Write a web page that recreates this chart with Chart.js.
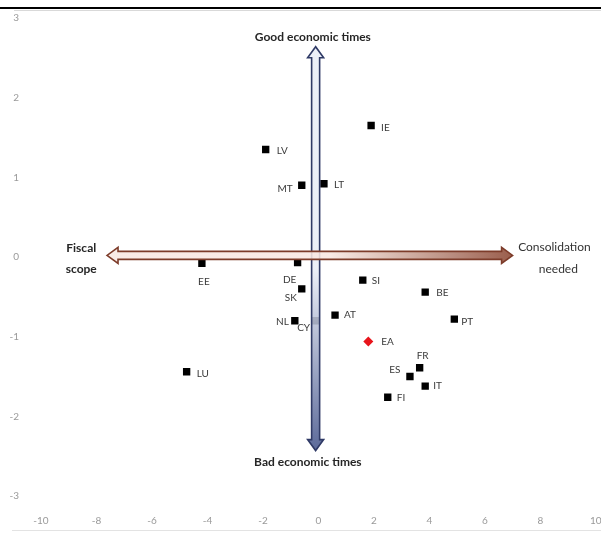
<!DOCTYPE html>
<html><head><meta charset="utf-8">
<script src="https://cdn.jsdelivr.net/npm/chart.js@4.4.0/dist/chart.umd.min.js"></script>
<style>
html,body{margin:0;padding:0;background:#fff;}
#wrap{position:relative;width:601px;height:547px;overflow:hidden;}
canvas{position:absolute;left:0;top:0;}
.ln{position:absolute;}
</style></head><body>
<div id="wrap">
<canvas id="c" width="601" height="547"></canvas>
<div class="ln" style="left:0;top:7px;width:601px;height:2px;background:#000"></div>
<div class="ln" style="left:14px;top:10px;width:587px;height:1px;background:#d9d9d9"></div>
<div class="ln" style="left:12px;top:530px;width:589px;height:1px;background:#e3e3e3"></div>
</div>
<script>
// ---- data ----
const countries = ['IE','LV','MT','LT','EE','DE','SK','NL','CY','AT','SI','BE','PT','FR','ES','IT','FI','LU'];
const xValues = [1.9,-1.9,-0.6,0.2,-4.2,-0.75,-0.6,-0.85,-0.1,0.6,1.6,3.85,4.9,3.65,3.3,3.85,2.5,-4.75];
const yValues = [1.65,1.35,0.9,0.92,-0.08,-0.07,-0.4,-0.8,-0.8,-0.73,-0.29,-0.44,-0.78,-1.39,-1.5,-1.62,-1.76,-1.44];
const euroArea = ['EA'];
const euroAreaX = [1.8];
const euroAreaY = [-1.06];
const xTickRange = [-10, 10];
const yTickRange = [-3, 3];
const annotationTexts = {
  up: ['Good economic times'],
  down: ['Bad economic times'],
  left: ['Fiscal', 'scope'],
  right: ['Consolidation', 'needed']
};

// ---- label placement (styling: pixel offsets from the point) ----
const labelPlacement = {
  IE:[10,2,'left'], LV:[11,1,'left'], MT:[-9,3,'right'], LT:[10,1,'left'],
  EE:[2,18,'center'], DE:[-8,17,'center'], SK:[-11,9,'center'], NL:[-6,1,'right'],
  CY:[-12,7,'center'], AT:[9,0,'left'], SI:[9,1,'left'], BE:[11,1,'left'],
  PT:[7,3,'left'], FR:[3,-12,'center'], ES:[-15,-7,'center'], IT:[8,0,'left'],
  FI:[9,1,'left'], LU:[10,2,'left'], EA:[13,0,'left']
};

const FONT = 'Lato, "Open Sans", sans-serif';

function drawArrow(ctx, x1, y1, x2, y2, stroke, c1, c2) {
  const dx = x2 - x1, dy = y2 - y1, L = Math.hypot(dx, dy);
  const ux = dx / L, uy = dy / L, nx = -uy, ny = ux;
  const sw = 4, hw = 8, hl = 11;
  const P = (t, s) => [x1 + ux * t + nx * s, y1 + uy * t + ny * s];
  const pts = [P(0,0), P(hl,hw), P(hl,sw), P(L-hl,sw), P(L-hl,hw), P(L,0),
               P(L-hl,-hw), P(L-hl,-sw), P(hl,-sw), P(hl,-hw)];
  ctx.save();
  const g = ctx.createLinearGradient(x1, y1, x2, y2);
  g.addColorStop(0, c1); g.addColorStop(0.55, c1); g.addColorStop(1, c2);
  ctx.beginPath();
  pts.forEach((p, i) => i ? ctx.lineTo(p[0], p[1]) : ctx.moveTo(p[0], p[1]));
  ctx.closePath();
  ctx.globalAlpha = 0.88;
  ctx.fillStyle = g; ctx.fill();
  ctx.globalAlpha = 1;
  ctx.strokeStyle = stroke; ctx.lineWidth = 1.6; ctx.lineJoin = 'miter';
  ctx.stroke();
  ctx.restore();
}

const overlay = {
  id: 'overlay',
  afterDatasetsDraw(chart) {
    const ctx = chart.ctx, xs = chart.scales.x, ys = chart.scales.y;
    drawArrow(ctx, xs.getPixelForValue(-0.1), ys.getPixelForValue(2.64),
              xs.getPixelForValue(-0.1), ys.getPixelForValue(-2.43),
              '#2f3a66', 'rgba(232,236,246,1)', 'rgba(70,86,140,1)');
    drawArrow(ctx, xs.getPixelForValue(-7.62), ys.getPixelForValue(0.02),
              xs.getPixelForValue(7.0), ys.getPixelForValue(0.02),
              '#7d3c2a', 'rgba(248,232,226,1)', 'rgba(140,72,52,1)');
    ctx.save();
    ctx.font = '10px ' + FONT;
    ctx.fillStyle = '#3a3a3a';
    ctx.textBaseline = 'middle';
    chart.data.datasets.forEach((ds, di) => {
      const meta = chart.getDatasetMeta(di);
      meta.data.forEach((el, i) => {
        const name = ds.names[i];
        const p = labelPlacement[name] || [10,0,'left'];
        ctx.textAlign = p[2];
        ctx.fillText(name, el.x + p[0], el.y + p[1]);
      });
    });
    ctx.fillStyle = '#262626';
    ctx.textAlign = 'center';
    ctx.font = 'bold 12px ' + FONT;
    ctx.fillText(annotationTexts.up[0], xs.getPixelForValue(-0.2), ys.getPixelForValue(2.76));
    ctx.fillText(annotationTexts.down[0], xs.getPixelForValue(-0.38), ys.getPixelForValue(-2.58));
    ctx.fillText(annotationTexts.left[0], xs.getPixelForValue(-8.55), ys.getPixelForValue(0.11));
    ctx.fillText(annotationTexts.left[1], xs.getPixelForValue(-8.55), ys.getPixelForValue(-0.15));
    ctx.font = '12px ' + FONT;
    ctx.fillStyle = '#333';
    ctx.textAlign = 'left';
    ctx.fillText(annotationTexts.right[0], xs.getPixelForValue(7.2), ys.getPixelForValue(0.12));
    ctx.textAlign = 'center';
    ctx.fillText(annotationTexts.right[1], xs.getPixelForValue(8.65), ys.getPixelForValue(-0.15));
    ctx.restore();
  }
};

new Chart(document.getElementById('c'), {
  type: 'scatter',
  data: {
    datasets: [
      {
        label: 'Countries',
        names: countries,
        data: countries.map((c, i) => ({x: xValues[i], y: yValues[i]})),
        pointStyle: 'rect', pointRadius: 5.2, pointHoverRadius: 5.2,
        backgroundColor: '#000', borderColor: '#000', borderWidth: 0
      },
      {
        label: 'Euro area',
        names: euroArea,
        data: euroArea.map((c, i) => ({x: euroAreaX[i], y: euroAreaY[i]})),
        pointStyle: 'rectRot', pointRadius: 5, pointHoverRadius: 5,
        backgroundColor: '#e8141b', borderColor: '#e8141b', borderWidth: 0
      }
    ]
  },
  options: {
    responsive: false, animation: false, devicePixelRatio: 1,
    layout: { padding: { top: 18, right: 3, left: 0, bottom: 0 } },
    plugins: { legend: { display: false }, tooltip: { enabled: false } },
    scales: {
      x: {
        type: 'linear', min: xTickRange[0], max: xTickRange[1],
        grid: { display: false }, border: { display: false },
        ticks: { stepSize: 2, color: '#9a9a9a', font: { family: FONT, size: 10 }, padding: 11, maxRotation: 0 },
        afterFit(s) { s.height = 51; s.paddingLeft = 0; s.paddingRight = 0; }
      },
      y: {
        type: 'linear', min: yTickRange[0], max: yTickRange[1],
        grid: { display: false }, border: { display: false },
        ticks: { stepSize: 1, color: '#9a9a9a', font: { family: FONT, size: 10 }, padding: 14 },
        afterFit(s) { s.width = 41; s.paddingTop = 0; s.paddingBottom = 0; }
      }
    }
  },
  plugins: [overlay]
});
</script>
</body></html>
